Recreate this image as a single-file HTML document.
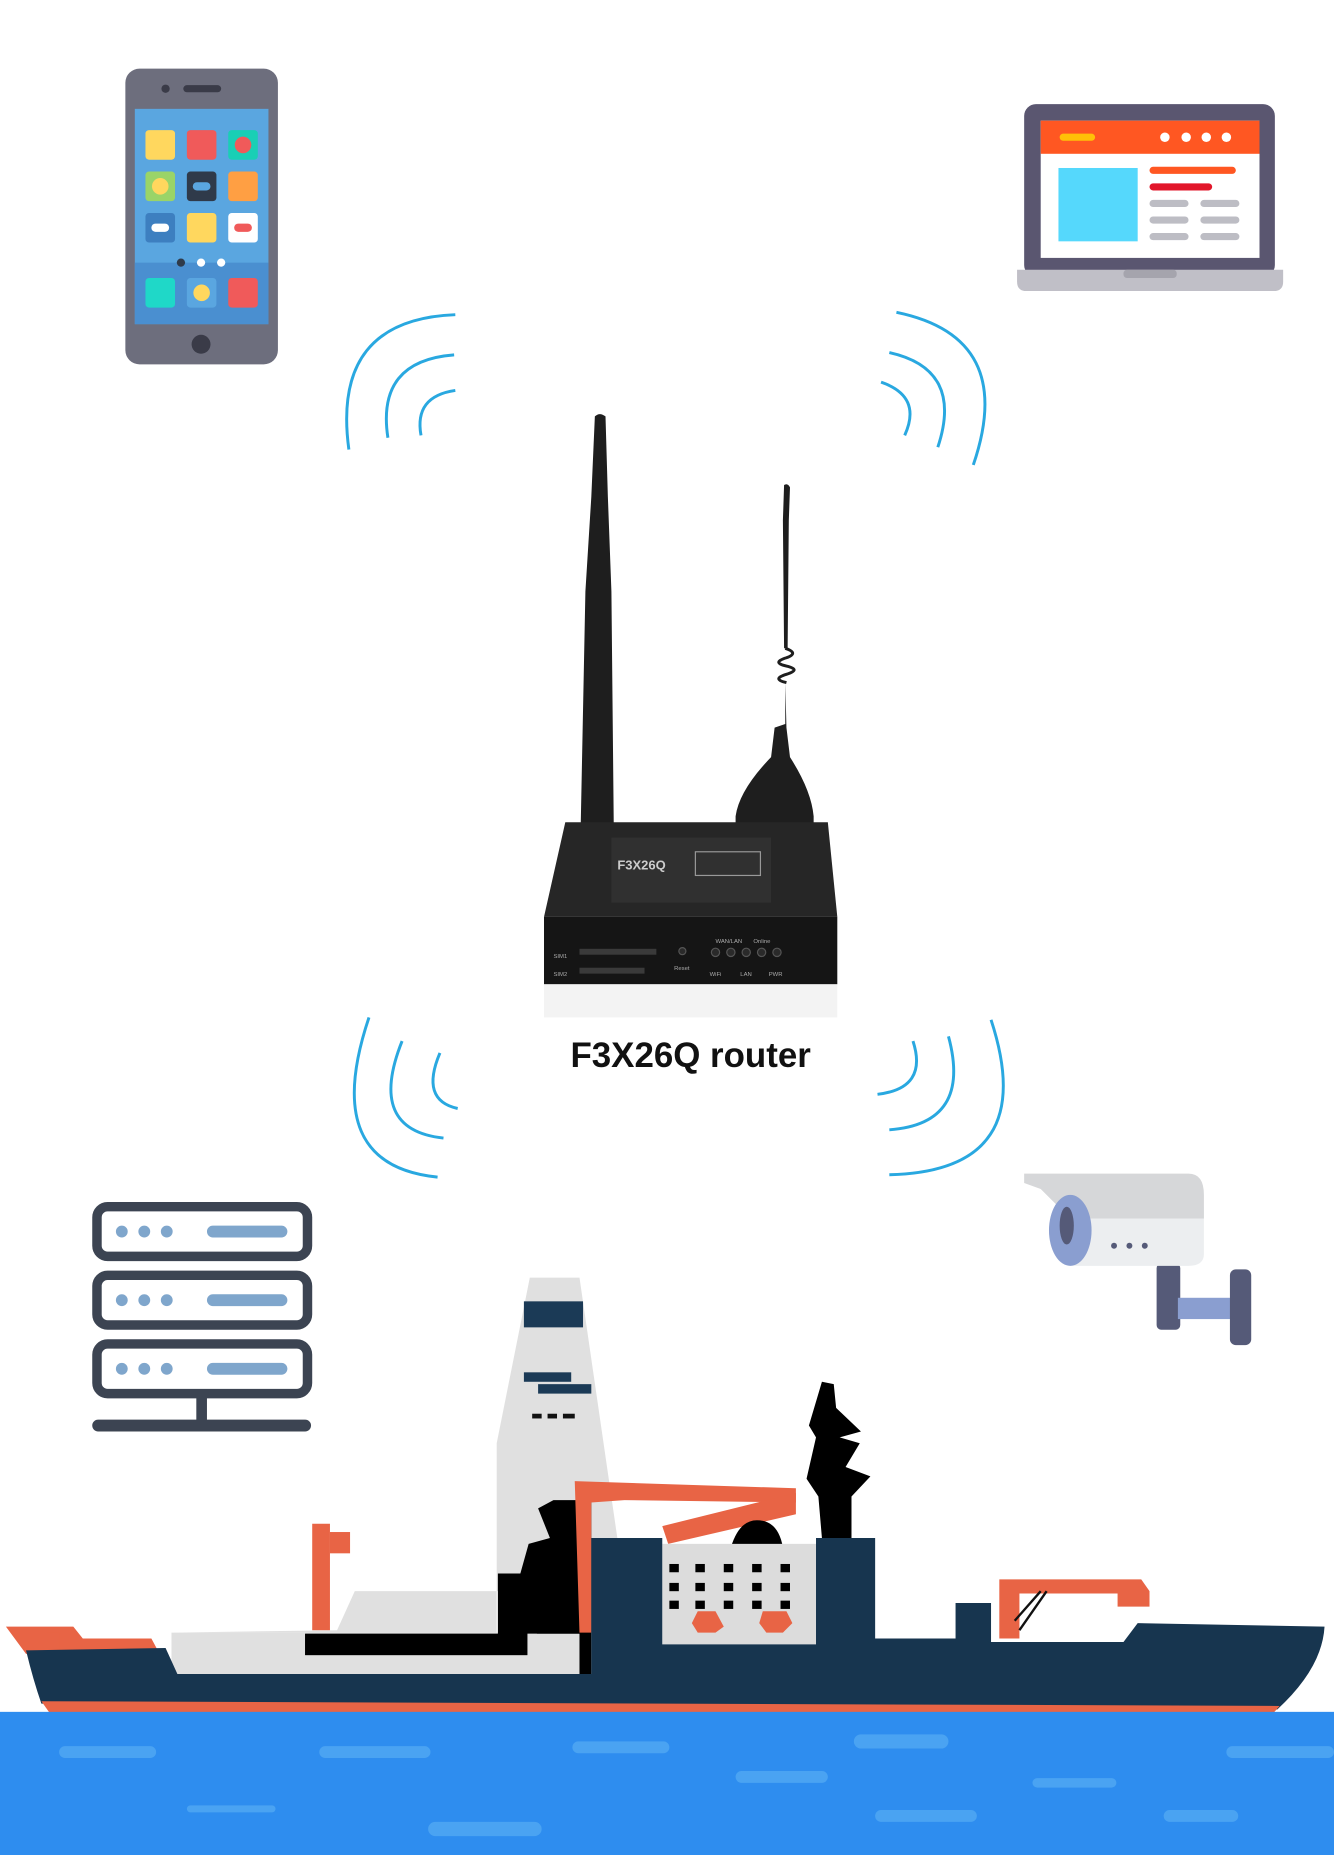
<!DOCTYPE html>
<html><head><meta charset="utf-8"><style>html,body{margin:0;padding:0;background:#fff}svg{display:block}</style></head>
<body>
<svg width="1334" height="1855" viewBox="0 0 1128 1568" preserveAspectRatio="none" xmlns="http://www.w3.org/2000/svg">
<rect width="1128" height="1568" fill="#fff"/>
<!-- phone -->
<rect x="106" y="58" width="129" height="250" rx="12" fill="#6d6e7d"/>
<rect x="114" y="92" width="113" height="182" fill="#5aa6e0"/>
<rect x="114" y="222" width="113" height="52" fill="#4a8fd0"/>
<rect x="155" y="72" width="32" height="6" rx="3" fill="#3a3b48"/>
<circle cx="140" cy="75" r="3.5" fill="#3a3b48"/>
<circle cx="170" cy="291" r="8" fill="#3a3b48"/>
<rect x="123" y="110" width="25" height="25" rx="3" fill="#ffd75e"/>
<rect x="158" y="110" width="25" height="25" rx="3" fill="#f05a5a"/>
<rect x="193" y="110" width="25" height="25" rx="3" fill="#19cfb5"/><circle cx="205.5" cy="122.5" r="7" fill="#f05a5a"/>
<rect x="123" y="145" width="25" height="25" rx="3" fill="#9ad468"/><circle cx="135.5" cy="157.5" r="7" fill="#ffd75e"/>
<rect x="158" y="145" width="25" height="25" rx="3" fill="#2f3a4a"/><rect x="163" y="154" width="15" height="7" rx="3.5" fill="#5aa6e0"/>
<rect x="193" y="145" width="25" height="25" rx="3" fill="#ff9f43"/>
<rect x="123" y="180" width="25" height="25" rx="3" fill="#3d7fc0"/><rect x="128" y="189" width="15" height="7" rx="3.5" fill="#fff"/>
<rect x="158" y="180" width="25" height="25" rx="3" fill="#ffd75e"/>
<rect x="193" y="180" width="25" height="25" rx="3" fill="#fff"/><rect x="198" y="189" width="15" height="7" rx="3.5" fill="#f05a5a"/>
<circle cx="153" cy="222" r="3.5" fill="#2f3a4a"/><circle cx="170" cy="222" r="3.5" fill="#fff"/><circle cx="187" cy="222" r="3.5" fill="#fff"/>
<rect x="123" y="235" width="25" height="25" rx="3" fill="#1fd8c8"/>
<rect x="158" y="235" width="25" height="25" rx="3" fill="#5aa6e0"/><circle cx="170.5" cy="247.5" r="7" fill="#ffd75e"/>
<rect x="193" y="235" width="25" height="25" rx="3" fill="#f05a5a"/>
<!-- laptop -->
<rect x="866" y="88" width="212" height="146" rx="10" fill="#5a5670"/>
<rect x="880" y="102" width="185" height="116" fill="#fff"/>
<rect x="880" y="102" width="185" height="28" fill="#ff5722"/>
<rect x="896" y="113" width="30" height="6" rx="3" fill="#ffc107"/>
<circle cx="985" cy="116" r="4" fill="#fff"/><circle cx="1003" cy="116" r="4" fill="#fff"/><circle cx="1020" cy="116" r="4" fill="#fff"/><circle cx="1037" cy="116" r="4" fill="#fff"/>
<rect x="895" y="142" width="67" height="62" fill="#55d8fc"/>
<rect x="972" y="141" width="73" height="6" rx="3" fill="#ff5722"/>
<rect x="972" y="155" width="53" height="6" rx="3" fill="#e2162a"/>
<g fill="#bdbdc4"><rect x="972" y="169" width="33" height="6" rx="3"/><rect x="1015" y="169" width="33" height="6" rx="3"/><rect x="972" y="183" width="33" height="6" rx="3"/><rect x="1015" y="183" width="33" height="6" rx="3"/><rect x="972" y="197" width="33" height="6" rx="3"/><rect x="1015" y="197" width="33" height="6" rx="3"/></g>
<path d="M860 228 H1085 V238 Q1085 246 1077 246 H868 Q860 246 860 238Z" fill="#c0bfc7"/>
<rect x="950" y="228" width="45" height="7" rx="3" fill="#a5a4ad"/>
<!-- wifi arcs -->
<g fill="none" stroke="#29a8e0" stroke-width="2.5">
<path d="M385 266 Q280 270 295 380"/><path d="M384 300 Q318 305 328 370"/><path d="M385 330 Q350 335 356 368"/>
<path d="M758 264 Q860 285 823 393"/><path d="M752 298 Q815 312 793 378"/><path d="M745 323 Q780 335 765 368"/>
<path d="M312 860 Q270 985 370 995"/><path d="M340 880 Q310 955 375 962"/><path d="M372 890 Q355 930 387 937"/>
<path d="M838 862 Q880 990 752 993"/><path d="M802 876 Q822 950 752 955"/><path d="M772 880 Q785 920 742 925"/>
</g>
<!-- router -->
<path d="M503 352 Q507 348 512 352 L514 420 L517 500 L519 700 L491 700 L495 500 L500 420Z" fill="#1e1e1e"/>
<path d="M663 410 Q666 408 668 412 L667 440 L666 548 L663 548 L662 440Z" fill="#1e1e1e"/>
<g fill="none" stroke="#1e1e1e" stroke-width="2.5"><path d="M664 548 Q676 552 665 556 Q652 560 665 563 Q678 566 665 570 Q652 574 665 577"/></g>
<path d="M664 577 L664 612 L655 615 L652 640 Q625 668 622 690 L622 710 L688 710 L688 690 Q686 668 668 640 L665 615Z" fill="#1e1e1e"/>
<path d="M478 695 H700 L708 775 H460Z" fill="#262626"/>
<rect x="460" y="775" width="248" height="57" fill="#151515"/>
<rect x="517" y="708" width="135" height="55" fill="#303030"/>
<text x="522" y="735" font-family="Liberation Sans, sans-serif" font-size="11" font-weight="bold" fill="#ccc">F3X26Q</text>
<rect x="588" y="720" width="55" height="20" fill="none" stroke="#999" stroke-width="1"/>
<g fill="#3a3a3a"><rect x="490" y="802" width="65" height="5"/><rect x="490" y="818" width="55" height="5"/></g>
<g fill="#2a2a2a" stroke="#555" stroke-width="1"><circle cx="577" cy="804" r="3"/><circle cx="605" cy="805" r="3.5"/><circle cx="618" cy="805" r="3.5"/><circle cx="631" cy="805" r="3.5"/><circle cx="644" cy="805" r="3.5"/><circle cx="657" cy="805" r="3.5"/></g>
<g font-family="Liberation Sans, sans-serif" font-size="5" fill="#aaa"><text x="468" y="810">SIM1</text><text x="468" y="825">SIM2</text><text x="570" y="820">Reset</text><text x="605" y="797">WAN/LAN</text><text x="637" y="797">Online</text><text x="600" y="825">WiFi</text><text x="626" y="825">LAN</text><text x="650" y="825">PWR</text></g>
<rect x="460" y="832" width="248" height="28" fill="#f3f3f3"/>
<text x="584" y="902" text-anchor="middle" font-family="Liberation Sans, sans-serif" font-size="29.5" font-weight="bold" fill="#111">F3X26Q router</text>
<!-- server -->
<g fill="none" stroke="#3c4452" stroke-width="8"><rect x="82" y="1020" width="178" height="42" rx="9"/><rect x="82" y="1078" width="178" height="42" rx="9"/><rect x="82" y="1136" width="178" height="42" rx="9"/></g>
<g fill="#7fa6cc"><circle cx="103" cy="1041" r="5"/><circle cx="122" cy="1041" r="5"/><circle cx="141" cy="1041" r="5"/><rect x="175" y="1036" width="68" height="10" rx="5"/>
<circle cx="103" cy="1099" r="5"/><circle cx="122" cy="1099" r="5"/><circle cx="141" cy="1099" r="5"/><rect x="175" y="1094" width="68" height="10" rx="5"/>
<circle cx="103" cy="1157" r="5"/><circle cx="122" cy="1157" r="5"/><circle cx="141" cy="1157" r="5"/><rect x="175" y="1152" width="68" height="10" rx="5"/></g>
<rect x="166" y="1180" width="9" height="22" fill="#3c4452"/>
<rect x="78" y="1200" width="185" height="10" rx="5" fill="#3c4452"/>
<!-- camera -->
<rect x="978" y="1068" width="20" height="56" rx="4" fill="#555a78"/>
<rect x="996" y="1097" width="46" height="18" fill="#8a9ed0"/>
<rect x="1040" y="1073" width="18" height="64" rx="5" fill="#555a78"/>
<path d="M905 1008 H1005 Q1018 1008 1018 1025 V1060 Q1018 1070 1005 1070 H905Z" fill="#eceef0"/>
<path d="M866 992 H1005 Q1018 992 1018 1010 V1030 H905 L880 1005 L866 1000Z" fill="#d6d7d9"/>
<ellipse cx="905" cy="1040" rx="18" ry="30" fill="#8a9ed0"/>
<ellipse cx="902" cy="1036" rx="6" ry="16" fill="#555a78"/>
<circle cx="942" cy="1053" r="2.5" fill="#555a78"/><circle cx="955" cy="1053" r="2.5" fill="#555a78"/><circle cx="968" cy="1053" r="2.5" fill="#555a78"/>
<!-- ship -->
<path d="M448 1080 H490 L522 1300 V1345 H420 V1220Z" fill="#e0e0e0"/>
<rect x="443" y="1100" width="50" height="22" fill="#1b3a56"/>
<rect x="443" y="1160" width="40" height="8" fill="#1b3a56"/><rect x="455" y="1170" width="45" height="8" fill="#1b3a56"/>
<g fill="#111"><rect x="450" y="1195" width="8" height="4"/><rect x="463" y="1195" width="8" height="4"/><rect x="476" y="1195" width="10" height="4"/></g>
<path d="M145 1380 H420 V1345 L300 1345 L285 1378 Z" fill="#e0e0e0"/>
<path d="M145 1380 H500 V1440 H145Z" fill="#e0e0e0"/>
<rect x="264" y="1288" width="15" height="90" fill="#e86445"/><rect x="279" y="1295" width="17" height="18" fill="#e86445"/>
<path d="M258 1381 H490 V1268 H468 L455 1275 L465 1300 L447 1305 L440 1330 L421 1330 V1381 H258 V1399 H446 V1381Z" fill="#000"/>
<rect x="258" y="1381" width="188" height="18" fill="#000"/>
<rect x="446" y="1381" width="8" height="35" fill="#e0e0e0"/>
<rect x="490" y="1268" width="10" height="148" fill="#000"/>
<path d="M486 1252 L673 1258 L673 1270 L528 1268 L500 1270 L500 1380 L490 1380 Z" fill="#e86445"/>
<path d="M560 1290 L673 1262 L673 1280 L565 1305Z" fill="#e86445"/>
<path d="M618 1308 Q625 1285 640 1285 Q658 1285 662 1308Z" fill="#000"/>
<rect x="560" y="1305" width="130" height="85" fill="#dcdcdc"/>
<g fill="#000"><rect x="566" y="1322" width="8" height="7"/><rect x="588" y="1322" width="8" height="7"/><rect x="612" y="1322" width="8" height="7"/><rect x="636" y="1322" width="8" height="7"/><rect x="660" y="1322" width="8" height="7"/>
<rect x="566" y="1338" width="8" height="7"/><rect x="588" y="1338" width="8" height="7"/><rect x="612" y="1338" width="8" height="7"/><rect x="636" y="1338" width="8" height="7"/><rect x="660" y="1338" width="8" height="7"/>
<rect x="566" y="1353" width="8" height="7"/><rect x="588" y="1353" width="8" height="7"/><rect x="612" y="1353" width="8" height="7"/><rect x="636" y="1353" width="8" height="7"/><rect x="660" y="1353" width="8" height="7"/></g>
<path d="M590 1362 H605 L612 1375 L605 1380 H590 L585 1372Z" fill="#e86445"/>
<path d="M645 1362 H665 L670 1372 L662 1380 H648 L642 1372Z" fill="#e86445"/>
<path d="M695 1168 L705 1170 L707 1190 L728 1210 L710 1215 L727 1220 L715 1240 L736 1248 L720 1265 L720 1300 L695 1300 L692 1265 L682 1250 L690 1215 L684 1205 Z" fill="#000"/>
<path d="M5 1375 H62 L70 1385 H128 L135 1398 H22Z" fill="#e86445"/>
<rect x="40" y="1380" width="10" height="18" fill="#e86445"/>
<path d="M845 1335 H965 L972 1345 V1358 H945 V1347 H862 V1385 H845Z" fill="#e86445"/>
<path d="M858 1370 L880 1345 M862 1378 L885 1345" stroke="#111" stroke-width="2"/>
<path d="M500 1300 H560 V1390 H690 V1300 H740 V1385 H808 V1355 H838 V1388 H950 L962 1372 L1120 1375 Q1118 1410 1080 1445 L35 1440 Q28 1420 22 1395 L140 1393 L150 1415 H500Z" fill="#17354f"/>
<path d="M35 1438 L1082 1442 L1075 1450 L42 1448Z" fill="#e86445"/>
<!-- water -->
<rect x="0" y="1447" width="1128" height="121" fill="#2e8def"/>
<g fill="#4aa3f2"><rect x="50" y="1476" width="82" height="10" rx="5"/><rect x="270" y="1476" width="94" height="10" rx="5"/><rect x="484" y="1472" width="82" height="10" rx="5"/><rect x="722" y="1466" width="80" height="12" rx="6"/><rect x="1037" y="1476" width="91" height="10" rx="5"/><rect x="622" y="1497" width="78" height="10" rx="5"/><rect x="873" y="1503" width="71" height="8" rx="4"/><rect x="158" y="1526" width="75" height="6" rx="3"/><rect x="362" y="1540" width="96" height="12" rx="6"/><rect x="740" y="1530" width="86" height="10" rx="5"/><rect x="984" y="1530" width="63" height="10" rx="5"/></g>
</svg>
</body></html>
